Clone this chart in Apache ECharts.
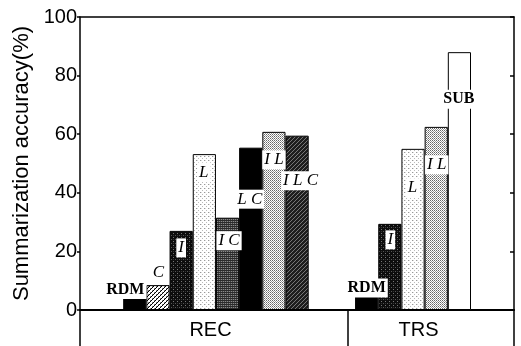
<!DOCTYPE html>
<html><head><meta charset="utf-8">
<script src="https://cdn.jsdelivr.net/npm/echarts@6/dist/echarts.min.js"></script>
<style>html,body{margin:0;padding:0;background:#fff}#c{width:521px;height:346px}</style>
</head><body><div id="c"></div>
<script>
// ---- data ----
const groups = ['REC', 'TRS'];
const recMethods = ['RDM', 'C', 'I', 'L', 'I C', 'L C', 'I L', 'I L C'];
const recValues = [4.3, 8.5, 27, 53.2, 31.5, 55.4, 60.8, 59.5];
const trsMethods = ['RDM', 'I', 'L', 'I L', 'SUB'];
const trsValues = [4.8, 29.4, 55, 62.5, 88];
const yTicks = [0, 20, 40, 60, 80, 100];
const yTitle = 'Summarization accuracy(%)';

// ---- label placement (offset of label centre from bar top-centre) ----
const recLabelOffsets = [[-9.5, -8], [0.5, -13], [0, 17], [-0.5, 18], [1.5, 23], [-1, 51.5], [0, 28], [3.5, 45]];
const trsLabelOffsets = [[0, -8], [0.5, 16], [-0.5, 39], [0.5, 38], [-0.5, 47]];

// ---- patterns ----
function pat(w, h, bg, pixels) {
  const c = document.createElement('canvas');
  c.width = w; c.height = h;
  const g = c.getContext('2d');
  g.fillStyle = bg; g.fillRect(0, 0, w, h);
  pixels.forEach(p => { g.fillStyle = p[2]; g.fillRect(p[0], p[1], 1, 1); });
  return { image: c, repeat: 'repeat' };
}
const styles = {
  'RDM': { color: '#000' },
  'C': { color: pat(4, 4, '#fff', [[0,3,'#000'],[1,2,'#000'],[2,1,'#000'],[3,0,'#000'],[0,2,'#888'],[2,0,'#888']]) },
  'I': { color: pat(4, 4, '#0d0d0d', [[1,1,'#777'],[3,3,'#555'],[1,3,'#333']]) },
  'L': { color: pat(4, 4, '#fff', [[0,0,'#999'],[2,2,'#bbb'],[1,0,'#ddd']]) },
  'I C': { color: pat(2, 2, '#2a2a2a', [[1,1,'#8a8a8a'],[0,1,'#444']]) },
  'L C': { color: '#000' },
  'I L': { color: pat(2, 2, '#fff', [[0,0,'#666'],[1,1,'#999']]) },
  'I L C': { color: pat(4, 4, '#1e1e1e', [[0,3,'#777'],[1,2,'#777'],[2,1,'#777'],[3,0,'#777']]) },
  'SUB': { color: '#fff' }
};
const boldLabels = ['RDM', 'SUB'];

// ---- build slot layout: one empty slot, REC bars, two empty slots, TRS bars ----
const slotNames = [];
const slotData = [];
function addEmpty() { slotNames.push('gap' + slotNames.length); slotData.push(null); }
function addGroup(methods, values, offsets) {
  methods.forEach((m, i) => {
    slotNames.push(m + '#' + slotNames.length);
    const bold = boldLabels.indexOf(m) >= 0;
    slotData.push({
      value: values[i],
      itemStyle: Object.assign({ borderColor: '#000', borderWidth: 1 }, styles[m]),
      label: {
        show: true, formatter: m, position: 'insideTop', distance: 0,
        offset: offsets[i], align: 'center', verticalAlign: 'middle',
        backgroundColor: '#fff', padding: [1, 2],
        fontFamily: 'Liberation Serif', fontSize: bold ? 16 : 17,
        fontStyle: bold ? 'normal' : 'italic', fontWeight: bold ? 'bold' : 'normal',
        lineHeight: 17, color: '#000'
      }
    });
  });
}
addEmpty();
addGroup(recMethods, recValues, recLabelOffsets);
addEmpty(); addEmpty();
addGroup(trsMethods, trsValues, trsLabelOffsets);

const yMin = yTicks[0], yMax = yTicks[yTicks.length - 1], yInt = yTicks[1] - yTicks[0];
const lineStyle = w => ({ show: true, onZero: false, lineStyle: { color: '#000', width: w } });
const off = { show: false };

const chart = echarts.init(document.getElementById('c'), null, { renderer: 'canvas' });
chart.setOption({
  animation: false,
  backgroundColor: '#fff',
  grid: [
    { left: 80, right: 7, top: 17, bottom: 36 },
    { left: 100, right: 50, top: 17, bottom: 36 },
    { left: 80, right: 173, top: 310, bottom: 0 },
    { left: 348, right: 7, top: 310, bottom: 0 }
  ],
  xAxis: [
    { gridIndex: 0, type: 'value', min: 0, max: 1, position: 'bottom', axisLine: lineStyle(2), axisTick: off, axisLabel: off, splitLine: off },
    { gridIndex: 0, type: 'value', min: 0, max: 1, position: 'top', axisLine: lineStyle(1.5), axisTick: off, axisLabel: off, splitLine: off },
    { gridIndex: 1, type: 'category', data: slotNames, show: false },
    { gridIndex: 2, type: 'category', data: [groups[0]], axisLine: off, axisTick: off,
      axisLabel: { inside: true, margin: 6, fontSize: 20, fontFamily: 'Liberation Sans', color: '#000', padding: [0, 7, 0, 0] } },
    { gridIndex: 3, type: 'category', data: [groups[1]], axisLine: off, axisTick: off,
      axisLabel: { inside: true, margin: 6, fontSize: 20, fontFamily: 'Liberation Sans', color: '#000', padding: [0, 25, 0, 0] } }
  ],
  yAxis: [
    { gridIndex: 0, type: 'value', min: yMin, max: yMax, interval: yInt, position: 'left',
      axisLine: lineStyle(1.5), axisTick: { show: true, length: 3, lineStyle: { color: '#000', width: 1.5 } },
      axisLabel: { margin: 3, fontSize: 20, fontFamily: 'Liberation Sans', color: '#000' },
      splitLine: off,
      name: yTitle, nameLocation: 'middle', nameGap: 47,
      nameTextStyle: { fontSize: 22, fontFamily: 'Liberation Sans', color: '#000' } },
    { gridIndex: 0, type: 'value', min: yMin, max: yMax, interval: yInt, position: 'right',
      axisLine: lineStyle(1.5), axisTick: { show: true, inside: true, length: 4, lineStyle: { color: '#000', width: 1.5 } },
      axisLabel: off, splitLine: off },
    { gridIndex: 1, type: 'value', min: yMin, max: yMax, show: false, splitLine: off },
    { gridIndex: 2, type: 'value', position: 'left', axisLine: lineStyle(1.5), axisTick: off, axisLabel: off, splitLine: off },
    { gridIndex: 3, type: 'value', position: 'left', axisLine: lineStyle(1.5), axisTick: off, axisLabel: off, splitLine: off },
    { gridIndex: 3, type: 'value', position: 'right', axisLine: lineStyle(1.5), axisTick: off, axisLabel: off, splitLine: off }
  ],
  series: [
    { type: 'bar', xAxisIndex: 2, yAxisIndex: 2, data: slotData, barCategoryGap: '0%', barGap: '0%' }
  ]
});
</script></body></html>
